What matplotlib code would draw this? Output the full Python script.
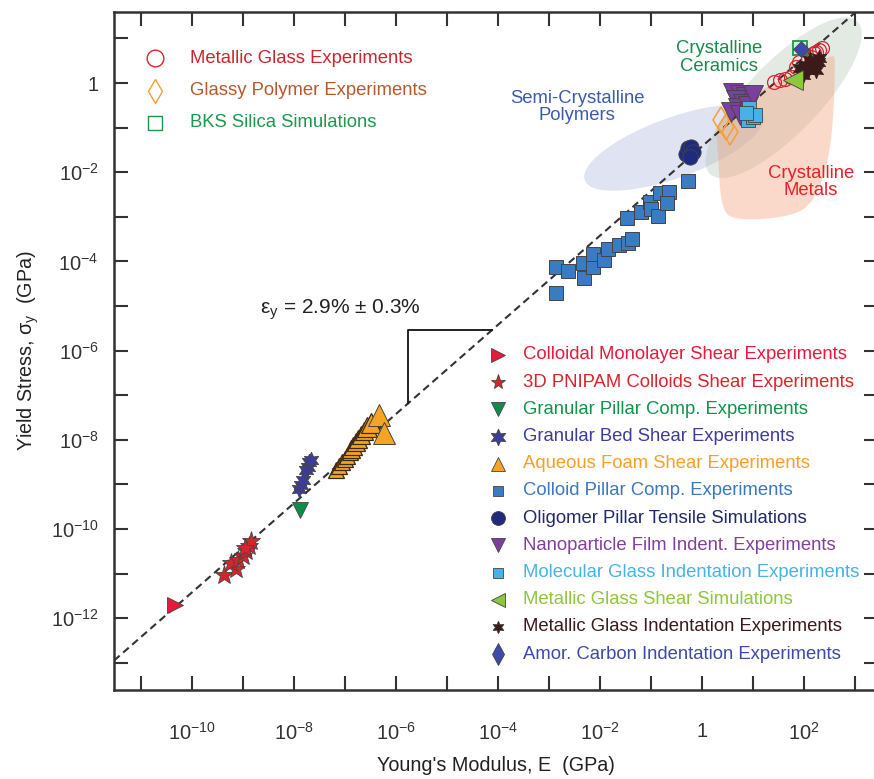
import numpy as np
import matplotlib
matplotlib.use("Agg")
import matplotlib.pyplot as plt
from matplotlib.patches import Polygon

plt.rcParams["font.family"] = ["Liberation Sans", "DejaVu Sans"]
plt.rcParams["mathtext.fontset"] = "custom"
plt.rcParams["mathtext.rm"] = "Liberation Sans"
plt.rcParams["mathtext.it"] = "Liberation Sans:italic"
plt.rcParams["mathtext.default"] = "regular"

# ---------------------------------------------------------------------------
# Data (log10 of E and sigma_y, both in GPa)
# ---------------------------------------------------------------------------
LINE_FRAC = 0.038          # dashed guide line sigma = frac * E
XLIM_LOG = (-11.53, 3.45)
YLIM_LOG = (-13.61, 1.60)

monolayer_E = [-10.33]
monolayer_S = [-11.70]
pnipam_E = [-9.38, -9.14, -9.24, -9.09, -9.00, -8.95, -8.89, -8.85, -8.96]
pnipam_S = [-11.03, -10.90, -10.76, -10.70, -10.61, -10.49, -10.38, -10.27, -10.43]
gpillar_E = [-7.88]
gpillar_S = [-9.57]
gbed_E = [-7.90, -7.86, -7.83, -7.76, -7.73, -7.70, -7.66]
gbed_S = [-9.11, -9.01, -8.90, -8.68, -8.60, -8.49, -8.45]
foam_E = [-7.17, -7.11, -7.05, -7.01, -6.97, -6.91, -6.88, -6.84, -6.78, -6.74,
          -6.68, -6.62, -6.56, -6.50]
foam_S = [-8.68, -8.59, -8.50, -8.43, -8.36, -8.27, -8.21, -8.14, -8.05, -7.98,
          -7.89, -7.80, -7.71, -7.62]
foam_big_E = [-6.33, -6.23]
foam_big_S = [-7.44, -7.85]
cpillar_E = [-2.865, -2.865, -2.63, -2.34, -2.32, -2.13, -2.14, -1.93, -1.85, -1.63,
             -1.445, -1.37, -1.48, -1.20, -1.02, -1.00, -0.86, -0.83, -0.65, -0.68, -0.27]
cpillar_S = [-4.70, -4.12, -4.21, -4.04, -4.38, -4.13, -3.83, -3.97, -3.71, -3.63,
             -3.59, -3.50, -3.02, -2.89, -2.66, -2.83, -2.98, -2.47, -2.44, -2.70, -2.19]
oligo_E = [-0.31, -0.27, -0.21, -0.18, -0.24]
oligo_S = [-1.58, -1.46, -1.43, -1.54, -1.65]
nano_E = [0.61, 0.74, 0.86, 0.94, 0.66, 0.80, 0.70, 0.90, 0.57, 0.74, 1.00]
nano_S = [-0.22, -0.27, -0.31, -0.38, -0.38, -0.47, -0.56, -0.52, -0.65, -0.72, -0.27]
molglass_E = [0.90, 1.00, 0.93, 1.03, 0.87]
molglass_S = [-0.83, -0.76, -0.57, -0.72, -0.68]
mgshear_E = [1.78]
mgshear_S = [0.07]
mgindent_E = [1.97, 2.07, 2.17, 2.27, 2.11, 2.03, 2.23, 1.93, 2.30]
mgindent_S = [0.18, 0.29, 0.38, 0.47, 0.52, 0.40, 0.29, 0.34, 0.56]
carbon_E = [1.95]
carbon_S = [0.76]
mgexp_E = [1.42, 1.52, 1.62, 1.74, 1.84, 1.91, 2.07, 2.20, 2.30, 2.36, 2.13, 2.23]
mgexp_S = [0.03, 0.07, 0.08, 0.14, 0.37, 0.48, 0.55, 0.67, 0.74, 0.78, 0.59, 0.70]
polymer_E = [0.38, 0.47, 0.54]
polymer_S = [-0.83, -0.98, -1.09]
bks_E = [1.93]
bks_S = [0.78]

# metals region outline (log10 E, log10 sigma)
metals_outline = [(0.25, -0.72), (2.56, 0.70), (2.62, 0.47), (2.54, -1.50),
                  (2.23, -2.62), (1.78, -3.00), (0.61, -3.09), (0.37, -2.78),
                  (0.31, -1.50)]

legend_top = ["Metallic Glass Experiments", "Glassy Polymer Experiments",
              "BKS Silica Simulations"]
legend_bottom = ["Colloidal Monolayer Shear Experiments",
                 "3D PNIPAM Colloids Shear Experiments",
                 "Granular Pillar Comp. Experiments",
                 "Granular Bed Shear Experiments",
                 "Aqueous Foam Shear Experiments",
                 "Colloid Pillar Comp. Experiments",
                 "Oligomer Pillar Tensile Simulations",
                 "Nanoparticle Film Indent. Experiments",
                 "Molecular Glass Indentation Experiments",
                 "Metallic Glass Shear Simulations",
                 "Metallic Glass Indentation Experiments",
                 "Amor. Carbon Indentation Experiments"]

STAR6 = (6, 1, 0)
EDGE = "#444444"
FS_LEG = 13.3

# ---------------------------------------------------------------------------
# Figure
# ---------------------------------------------------------------------------
fig = plt.figure(figsize=(8.74, 7.79), dpi=100)
ax = fig.add_axes([114 / 874, 1 - 690 / 779, (878 - 114) / 874, (690 - 11.7) / 779])
ax.set_xscale("log")
ax.set_yscale("log")
ax.set_xlim(10 ** XLIM_LOG[0], 10 ** XLIM_LOG[1])
ax.set_ylim(10 ** YLIM_LOG[0], 10 ** YLIM_LOG[1])

# pixels per decade, used to draw the shaded blobs as ellipses on screen
px_x = 764 / (XLIM_LOG[1] - XLIM_LOG[0])
px_y = 678.3 / (YLIM_LOG[1] - YLIM_LOG[0])


def ellipse(cx, cy, a, b, ang):
    t = np.linspace(0, 2 * np.pi, 200)
    th = np.deg2rad(ang)
    px = a * np.cos(th) * np.cos(t) - b * np.sin(th) * np.sin(t)
    py = a * np.sin(th) * np.cos(t) + b * np.cos(th) * np.sin(t)
    return np.column_stack([10 ** (cx + px / px_x), 10 ** (cy + py / px_y)])


def chaikin(pts, n=4):
    p = np.asarray(pts, float)
    for _ in range(n):
        q = np.roll(p, -1, axis=0)
        new = np.empty((2 * len(p), 2))
        new[0::2] = 0.75 * p + 0.25 * q
        new[1::2] = 0.25 * p + 0.75 * q
        p = new
    return 10 ** p


# shaded property regions
ax.add_patch(Polygon(ellipse(-0.55, -1.45, 95, 30, 20), closed=True,
                     facecolor="#aab2da", alpha=0.36, edgecolor="none", zorder=0.5))
ax.add_patch(Polygon(ellipse(1.60, -0.33, 106, 36, 46), closed=True,
                     facecolor="#b3c4b3", alpha=0.36, edgecolor="none", zorder=0.6))
ax.add_patch(Polygon(chaikin(metals_outline), closed=True,
                     facecolor="#f4a27e", alpha=0.40, edgecolor="none", zorder=0.7))

# guide line
ex = np.array([10 ** XLIM_LOG[0], 10 ** XLIM_LOG[1]])
ax.plot(ex, LINE_FRAC * ex, color="#333333", lw=1.5, dashes=(3.6, 2.2), zorder=1)

# slope bracket
e1, e2 = 10 ** -5.76, 10 ** -4.12
ax.plot([e1, e1, e2], [LINE_FRAC * e1, LINE_FRAC * e2, LINE_FRAC * e2],
        color="#111111", lw=1.3, zorder=1)
ax.text(10 ** -8.67, 10 ** -5.09, "ε$_{y}$ = 2.9% ± 0.3%", fontsize=15,
        ha="left", va="center", color="#222222")


def pts(E, S, **kw):
    ax.plot(10 ** np.asarray(E), 10 ** np.asarray(S), ls="none", zorder=3, **kw)


pts(monolayer_E, monolayer_S, marker=">", ms=12, mfc="#e8193c", mec=EDGE, mew=0.6)
pts(pnipam_E, pnipam_S, marker="*", ms=14, mfc="#d8242a", mec=EDGE, mew=0.6)
pts(gpillar_E, gpillar_S, marker="v", ms=11, mfc="#0d8c4a", mec=EDGE, mew=0.6)
pts(gbed_E, gbed_S, marker=STAR6, ms=12, mfc="#3c3c9e", mec=EDGE, mew=0.6)
foam_ms = np.linspace(11, 14, len(foam_E))
for e, s, m in zip(foam_E, foam_S, foam_ms):
    pts([e], [s], marker="^", ms=m, mfc="#f7a425", mec="#3a2a12", mew=0.9)
pts(foam_big_E, foam_big_S, marker="^", ms=16, mfc="#f7a425", mec=EDGE, mew=0.7)
pts(cpillar_E, cpillar_S, marker="s", ms=9.5, mfc="#3a7cc4", mec=EDGE, mew=0.7)
pts(oligo_E, oligo_S, marker="o", ms=11, mfc="#1f2a80", mec=EDGE, mew=0.6)
pts(polymer_E, polymer_S, marker="d", ms=13, mfc="none", mec="#f7a030", mew=1.1)
pts(nano_E, nano_S, marker="v", ms=14, mfc="#7b3f9e", mec=EDGE, mew=0.6)
pts(molglass_E, molglass_S, marker="s", ms=10, mfc="#45b4e4", mec=EDGE, mew=0.6)
pts(mgexp_E, mgexp_S, marker="o", ms=10, mfc="none", mec="#d8262e", mew=0.9)
pts(mgindent_E, mgindent_S, marker=STAR6, ms=12, mfc="#3b1a1a", mec="#3b1a1a", mew=0.5)
pts(mgshear_E, mgshear_S, marker="<", ms=14, mfc="#8dc63f", mec=EDGE, mew=0.6)
pts(bks_E, bks_S, marker="s", ms=10, mfc="none", mec="#159a48", mew=1.3)
pts(carbon_E, carbon_S, marker="D", ms=8, mfc="#3d4aa8", mec=EDGE, mew=0.5)

# region labels
ax.text(10 ** 0.33, 10 ** 0.58, "Crystalline\nCeramics", color="#1a8a4a",
        fontsize=FS_LEG, ha="center", va="center", linespacing=1.05, zorder=4)
ax.text(10 ** -2.45, 10 ** -0.54, "Semi-Crystalline\nPolymers", color="#3b5bab",
        fontsize=FS_LEG, ha="center", va="center", linespacing=1.05, zorder=4)
ax.text(10 ** 2.13, 10 ** -2.22, "Crystalline\nMetals", color="#e8202a",
        fontsize=FS_LEG, ha="center", va="center", linespacing=1.05, zorder=4)

# top-left legend (open symbols)
top_styles = [dict(marker="o", mec="#d8262e"), dict(marker="d", mec="#f7a030"),
              dict(marker="s", mec="#159a48")]
top_colors = ["#c8262e", "#b55a2e", "#1a9a4a"]
for i, (lab, st, col) in enumerate(zip(legend_top, top_styles, top_colors)):
    y = 0.9313 - i * 0.0475
    ax.plot([0.0537], [y], transform=ax.transAxes, ls="none", ms=12 if i < 2 else 10,
            mfc="none", mew=1.0, zorder=5, **st)
    ax.text(0.0995, y, lab, transform=ax.transAxes, color=col, fontsize=FS_LEG,
            ha="left", va="center")

# bottom-right legend
bot_styles = [
    dict(marker=">", ms=10, mfc="#e8193c"),
    dict(marker="*", ms=11, mfc="#d8242a"),
    dict(marker="v", ms=10, mfc="#0d8c4a"),
    dict(marker=STAR6, ms=12, mfc="#3c3c9e"),
    dict(marker="^", ms=10, mfc="#f7a425"),
    dict(marker="s", ms=7, mfc="#3a7cc4"),
    dict(marker="o", ms=10, mfc="#1f2a80"),
    dict(marker="v", ms=10, mfc="#7b3f9e"),
    dict(marker="s", ms=7, mfc="#45b4e4"),
    dict(marker="<", ms=10, mfc="#8dc63f"),
    dict(marker=STAR6, ms=9, mfc="#3b1a1a"),
    dict(marker="d", ms=11, mfc="#3d4aa8"),
]
bot_colors = ["#e8193c", "#d8242a", "#11944a", "#3c3c9e", "#f7a025", "#3a78c0",
              "#22286e", "#8040a0", "#45b4e4", "#8dc63f", "#3b1a1a", "#3d4aa8"]
for i, (lab, st, col) in enumerate(zip(legend_bottom, bot_styles, bot_colors)):
    y = 0.4939 - i * 0.0401
    ax.plot([0.5026], [y], transform=ax.transAxes, ls="none", mec=EDGE, mew=0.6,
            zorder=5, **st)
    ax.text(0.5353, y, lab, transform=ax.transAxes, color=col, fontsize=FS_LEG,
            ha="left", va="center")

# ticks


def fmt(e):
    if e % 2:
        return ""
    return "1" if e == 0 else "10$^{%d}$" % e


xe = np.arange(-11, 4)
ye = np.arange(-13, 2)
ax.set_xticks(10.0 ** xe)
ax.set_xticklabels([fmt(e) for e in xe])
ax.set_yticks(10.0 ** ye)
ax.set_yticklabels([fmt(e) for e in ye])
ax.minorticks_off()
ax.tick_params(which="major", direction="in", length=10, width=1.5, top=True,
               right=True, labelsize=14.5, colors="#333333")
ax.tick_params(axis="x", pad=23)
ax.tick_params(axis="y", pad=11)
for sp in ax.spines.values():
    sp.set_linewidth(1.8)
    sp.set_color("#333333")

ax.set_xlabel("Young's Modulus, E  (GPa)", fontsize=14.2, labelpad=9, color="#222222")
ax.set_ylabel("Yield Stress, σ$_{y}$  (GPa)", fontsize=14.2, labelpad=7, color="#222222")

fig.savefig("out.png", dpi=100, facecolor="white")
